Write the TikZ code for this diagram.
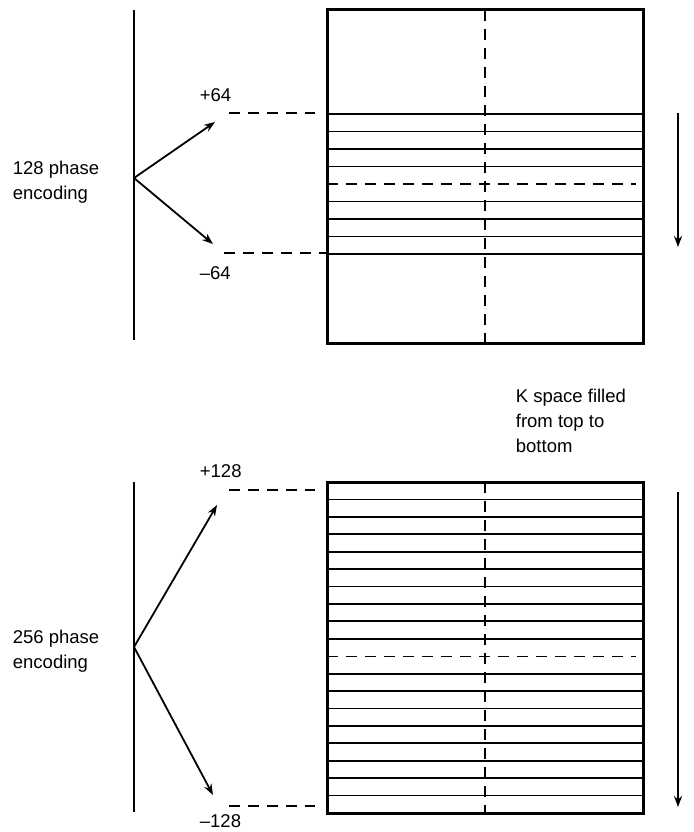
\documentclass[tikz,border=0pt]{standalone}
\usepackage{fontspec}
\setmainfont{Liberation Sans}
\usetikzlibrary{arrows.meta}

\begin{document}
\begin{tikzpicture}[
  x=1pt, y=-1pt,
  >={Stealth[length=11pt, width=8pt]},
  font=\fontsize{18.5}{25}\selectfont,
  line width=1.8pt,
  leader/.style={dash pattern=on 11pt off 8pt},
  frame/.style={line width=3pt},
  sweep/.style={->, line width=2.4pt},
  label/.style={anchor=base west, inner sep=0pt, align=left}
]
\useasboundingbox (0,0) rectangle (693,832);

% ----- ukuran bersama -----
\def\bxl{327}
\def\bxr{643}
\def\bxm{485}
\def\axisx{134}
\def\arrx{678}

% ----- panel atas: 128 phase encoding -----
\def\ta{10}
\def\tb{343}
\foreach \k in {0,1,2,3,5,6,7,8} {
  \draw (\bxl,{114+17.5*\k}) -- (\bxr,{114+17.5*\k});
}
\draw[leader] (\bxl,184) -- (636,184);
\draw[leader] (\bxm,\ta) -- (\bxm,\tb);
\draw[frame] (\bxl,\ta) rectangle (\bxr,\tb);

\draw (\axisx,10) -- (\axisx,340);
\coordinate (o1) at (\axisx,178);
\coordinate (p1) at (215,122);
\coordinate (m1) at (213,244);
\draw[->] (o1) -- (p1);
\draw[->] (o1) -- (m1);

\coordinate (p1a) at (229,113);
\coordinate (p1b) at (315,113);
\coordinate (m1a) at (224,253);
\coordinate (m1b) at (\bxl,253);
\draw[leader] (p1a) -- (p1b);
\draw[leader] (m1a) -- (m1b);

% (base = garis dasar baris terakhir)
\node[label] (plus64)  at (199,102) {+64};
\node[label] (minus64) at (199,279) {\textendash64};
\node[label] (lbltop)  at (12,199) {128 phase\\encoding};

\coordinate (d1a) at (\arrx,113);
\coordinate (d1b) at (\arrx,247);
\draw[sweep] (d1a) -- (d1b);

% ----- teks di tengah -----
\node[label] (kspace) at (515,452) {K space filled\\from top to\\bottom};

% ----- panel bawah: 256 phase encoding -----
\def\ba{482}
\def\bb{813}
\foreach \k in {1,...,9,11,12,...,18} {
  \draw (\bxl,{\ba+17.42*\k}) -- (\bxr,{\ba+17.42*\k});
}
\draw[leader] (\bxl,656.5) -- (636,656.5);
\draw[leader] (\bxm,\ba) -- (\bxm,\bb);
\draw[frame] (\bxl,\ba) rectangle (\bxr,\bb);

\draw (\axisx,482) -- (\axisx,812);
\coordinate (o2) at (\axisx,647);
\coordinate (p2) at (217,505);
\coordinate (m2) at (213,795);
\draw[->] (o2) -- (p2);
\draw[->] (o2) -- (m2);

\coordinate (p2a) at (229,490);
\coordinate (p2b) at (315,490);
\coordinate (m2a) at (229,806);
\coordinate (m2b) at (315,806);
\draw[leader] (p2a) -- (p2b);
\draw[leader] (m2a) -- (m2b);

\node[label] (plus128)  at (199,477) {+128};
\node[label] (minus128) at (199,827) {\textendash128};
\node[label] (lblbot)   at (12,668) {256 phase\\encoding};

\coordinate (d2a) at (\arrx,492);
\coordinate (d2b) at (\arrx,807);
\draw[sweep] (d2a) -- (d2b);
\end{tikzpicture}
\end{document}
